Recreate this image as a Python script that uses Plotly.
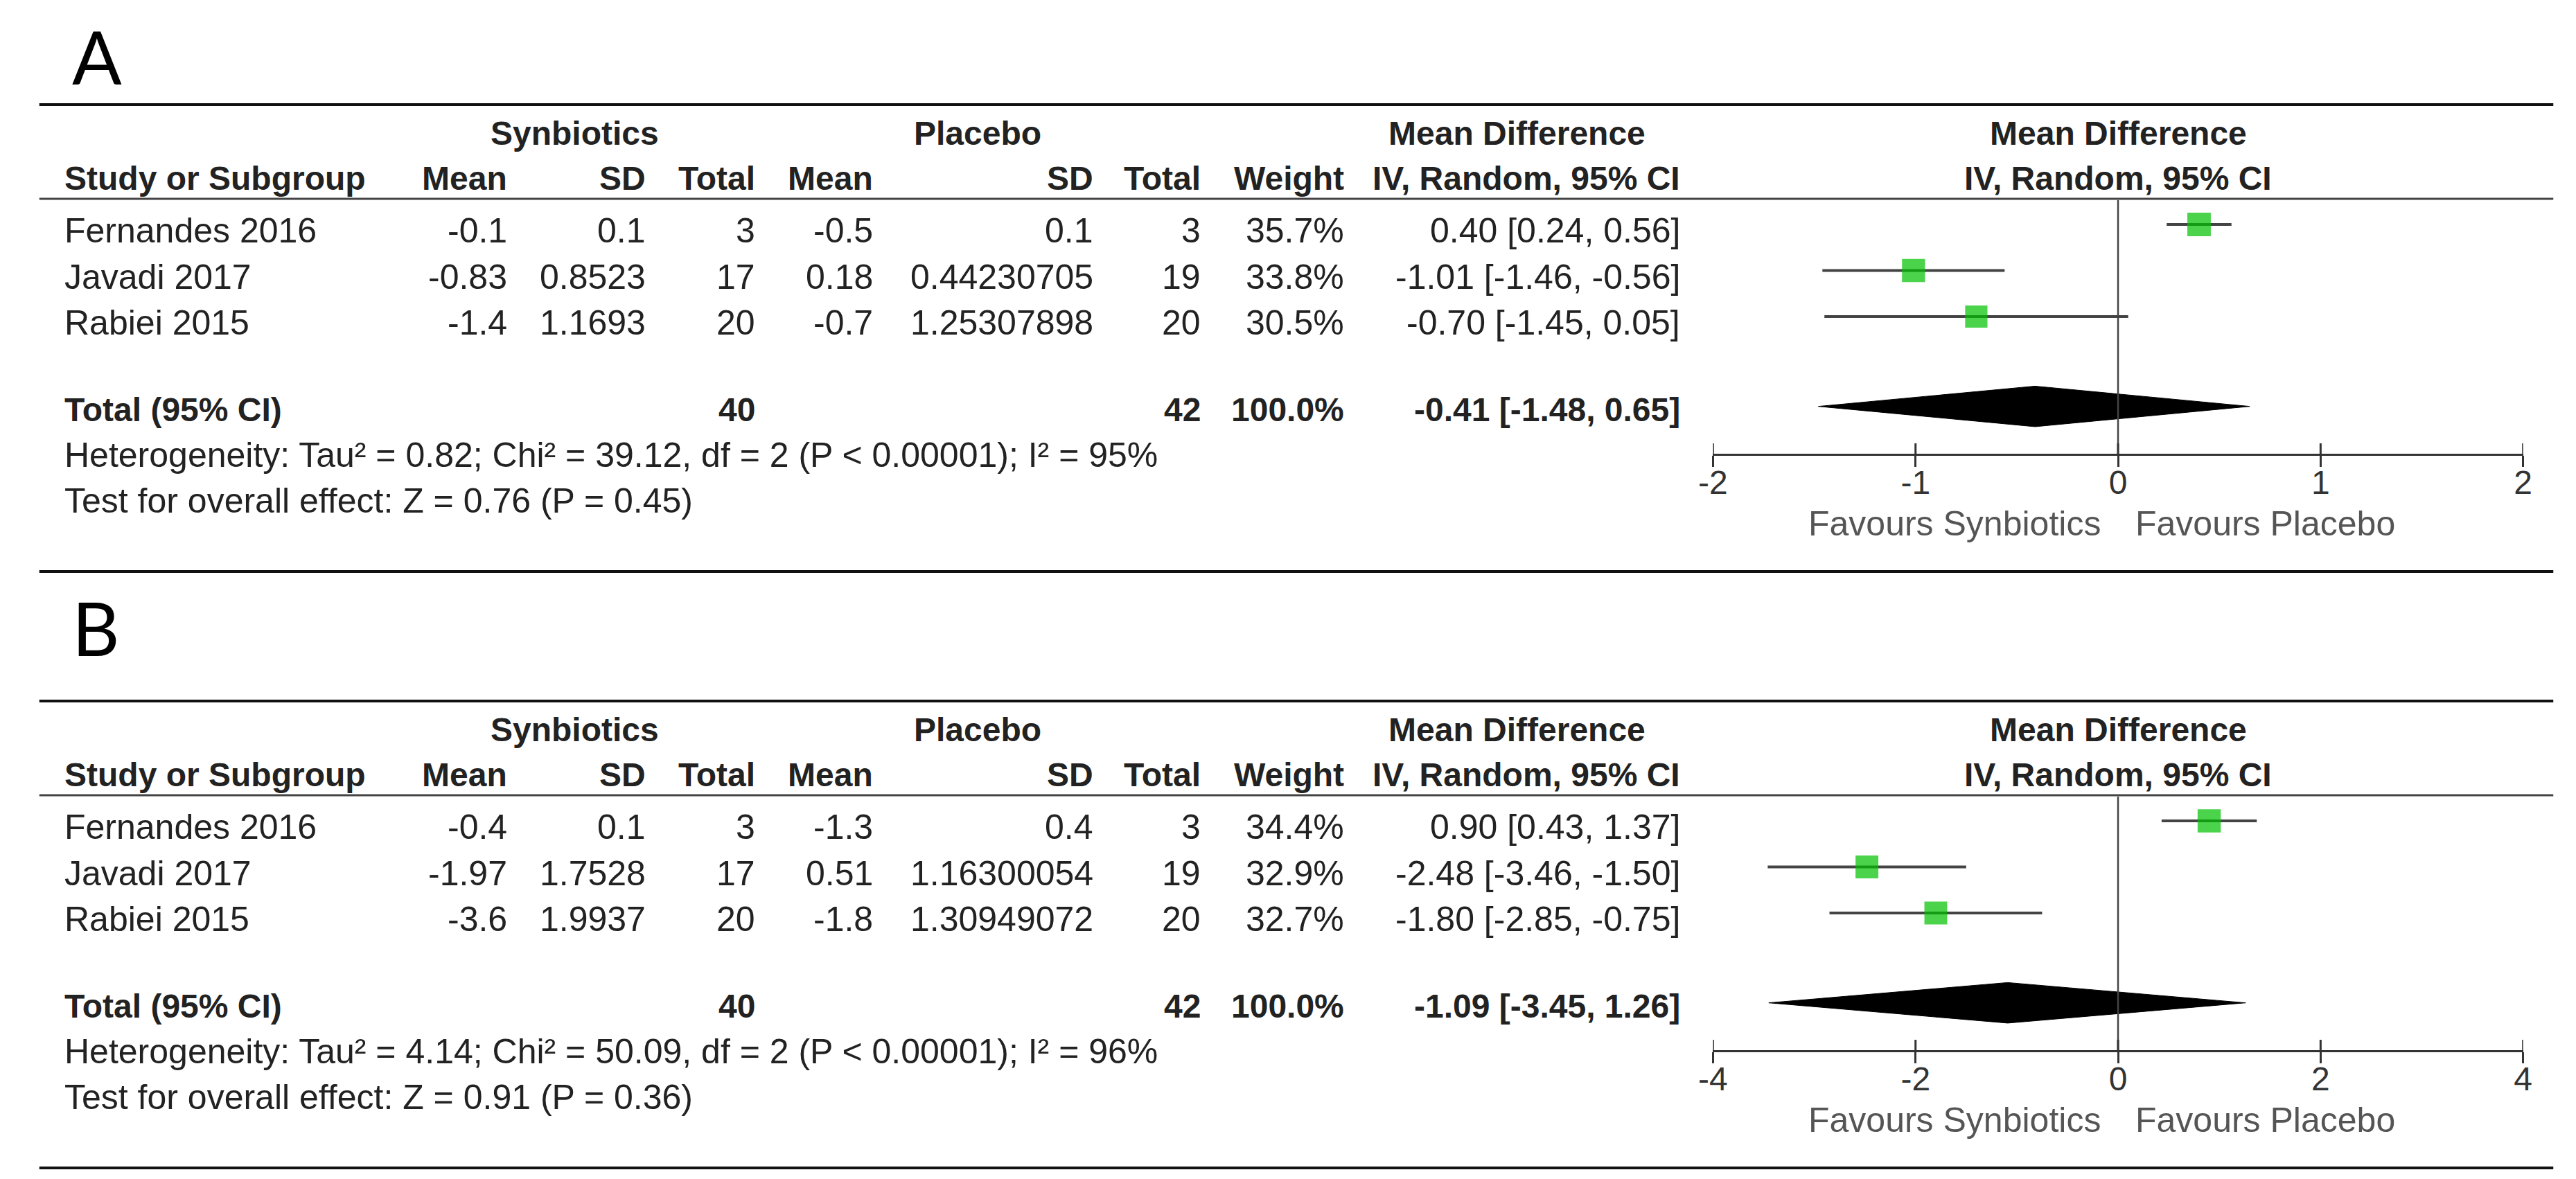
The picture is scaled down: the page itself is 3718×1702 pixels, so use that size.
import plotly.graph_objects as go

W, H = 3718, 1702

studies = ["Fernandes 2016", "Javadi 2017", "Rabiei 2015"]

# panel A
a_syn_mean = [-0.1, -0.83, -1.4]
a_syn_sd = [0.1, 0.8523, 1.1693]
a_syn_n = [3, 17, 20]
a_pla_mean = [-0.5, 0.18, -0.7]
a_pla_sd = [0.1, 0.44230705, 1.25307898]
a_pla_n = [3, 19, 20]
a_weight = [35.7, 33.8, 30.5]
a_md = [0.40, -1.01, -0.70]
a_lo = [0.24, -1.46, -1.45]
a_hi = [0.56, -0.56, 0.05]
a_total = [-0.41, -1.48, 0.65]
a_tau2, a_chi2, a_df, a_i2 = 0.82, 39.12, 2, 95
a_z, a_p = 0.76, 0.45
a_ticks = [-2, -1, 0, 1, 2]

# panel B
b_syn_mean = [-0.4, -1.97, -3.6]
b_syn_sd = [0.1, 1.7528, 1.9937]
b_syn_n = [3, 17, 20]
b_pla_mean = [-1.3, 0.51, -1.8]
b_pla_sd = [0.4, 1.16300054, 1.30949072]
b_pla_n = [3, 19, 20]
b_weight = [34.4, 32.9, 32.7]
b_md = [0.90, -2.48, -1.80]
b_lo = [0.43, -3.46, -2.85]
b_hi = [1.37, -1.50, -0.75]
b_total = [-1.09, -3.45, 1.26]
b_tau2, b_chi2, b_df, b_i2 = 4.14, 50.09, 2, 96
b_z, b_p = 0.91, 0.36
b_ticks = [-4, -2, 0, 2, 4]

panels = [
    dict(label="A", syn_mean=a_syn_mean, syn_sd=a_syn_sd, syn_n=a_syn_n,
         pla_mean=a_pla_mean, pla_sd=a_pla_sd, pla_n=a_pla_n, weight=a_weight,
         md=a_md, lo=a_lo, hi=a_hi, total=a_total, tau2=a_tau2, chi2=a_chi2,
         df=a_df, i2=a_i2, z=a_z, p=a_p, ticks=a_ticks),
    dict(label="B", syn_mean=b_syn_mean, syn_sd=b_syn_sd, syn_n=b_syn_n,
         pla_mean=b_pla_mean, pla_sd=b_pla_sd, pla_n=b_pla_n, weight=b_weight,
         md=b_md, lo=b_lo, hi=b_hi, total=b_total, tau2=b_tau2, chi2=b_chi2,
         df=b_df, i2=b_i2, z=b_z, p=b_p, ticks=b_ticks),
]

# layout in pixels of the 3718x1702 page
PANEL_DY = [0, 861]
LETTER_Y = [73, 898]
ROW0 = 316        # first study row (marker centre)
ROWH = 66.5
TOTAL_ROW = 3.95
TEXT_DY = 9
AXIS_Y = 648
TICK_UP = 16
PLOT_L, PLOT_R = 2466, 3646
LINE_L, LINE_R = 28, 3690

FONT = "Liberation Sans"
TXT = "#222222"


def px(x):
    return x / W


def py(y):
    return 1 - y / H


fig = go.Figure()
annotations = []
shapes = []


def ann(text, x, y, anchor="left", size=50, color=TXT, bold=False, family=FONT):
    if bold:
        text = "<b>" + text + "</b>"
    annotations.append(dict(text=text, x=px(x), y=py(y), xref="paper", yref="paper",
                            xanchor=anchor, yanchor="middle", showarrow=False,
                            font=dict(family=family, size=size, color=color)))


def hline(y, width, color):
    shapes.append(dict(type="line", xref="paper", yref="paper", x0=px(LINE_L), x1=px(LINE_R),
                       y0=py(y), y1=py(y), line=dict(color=color, width=width)))


for i, p in enumerate(panels):
    dy = PANEL_DY[i]
    xa, ya = ("x", "y") if i == 0 else ("x2", "y2")
    n = len(studies)
    rows = list(range(n))

    # panel letter and rules
    ann(p["label"], 74, LETTER_Y[i], size=106, color="black", family="Lato")
    hline(143 + dy, 4, "#111111")
    hline(279 + dy, 3, "#444444")
    hline(817 + dy, 4, "#111111")

    # headers
    ann("Synbiotics", 808, 184 + dy, "center", 48, bold=True)
    ann("Placebo", 1395, 184 + dy, "center", 48, bold=True)
    ann("Mean Difference", 2180, 184 + dy, "center", 48, bold=True)
    ann("Mean Difference", (PLOT_L + PLOT_R) / 2, 184 + dy, "center", 48, bold=True)
    ann("Study or Subgroup", 63, 249 + dy, "left", 48, bold=True)
    for txt, xr in [("Mean", 712), ("SD", 913), ("Total", 1073), ("Mean", 1244),
                    ("SD", 1565), ("Total", 1722), ("Weight", 1931),
                    ("IV, Random, 95% CI", 2420)]:
        ann(txt, xr, 249 + dy, "right", 48, bold=True)
    ann("IV, Random, 95% CI", (PLOT_L + PLOT_R) / 2, 249 + dy, "center", 48, bold=True)

    # study rows
    for k in rows:
        yy = ROW0 + TEXT_DY + ROWH * k + dy
        ann(studies[k], 63, yy)
        ann(str(p["syn_mean"][k]), 712, yy, "right")
        ann(str(p["syn_sd"][k]), 913, yy, "right")
        ann(str(p["syn_n"][k]), 1073, yy, "right")
        ann(str(p["pla_mean"][k]), 1244, yy, "right")
        ann(str(p["pla_sd"][k]), 1565, yy, "right")
        ann(str(p["pla_n"][k]), 1722, yy, "right")
        ann(f"{p['weight'][k]:.1f}%", 1931, yy, "right")
        ann(f"{p['md'][k]:.2f} [{p['lo'][k]:.2f}, {p['hi'][k]:.2f}]", 2420, yy, "right")

    # total row
    yt = ROW0 + ROWH * TOTAL_ROW + 5 + dy
    est, tlo, thi = p["total"]
    ann("Total (95% CI)", 63, yt, "left", 48, bold=True)
    ann(str(sum(p["syn_n"])), 1073, yt, "right", 48, bold=True)
    ann(str(sum(p["pla_n"])), 1722, yt, "right", 48, bold=True)
    ann("100.0%", 1931, yt, "right", 48, bold=True)
    ann(f"{est:.2f} [{tlo:.2f}, {thi:.2f}]", 2420, yt, "right", 48, bold=True)

    ann(f"Heterogeneity: Tau² = {p['tau2']:.2f}; Chi² = {p['chi2']:.2f}, df = {p['df']} "
        f"(P < 0.00001); I² = {p['i2']}%", 63, 649 + dy)
    ann(f"Test for overall effect: Z = {p['z']:.2f} (P = {p['p']:.2f})", 63, 715 + dy)

    # favours labels
    ann("Favours Synbiotics", 3033, 748 + dy, "right", 50, color="#555555")
    ann("Favours Placebo", 3079, 748 + dy, "left", 50, color="#555555")

    # line of no effect
    shapes.append(dict(type="line", xref=xa, yref="paper", x0=0, x1=0,
                       y0=py(281 + dy), y1=py(AXIS_Y + dy),
                       line=dict(color="#444444", width=2.5)))

    # upper half of the crossing tick marks
    for t in p["ticks"]:
        shapes.append(dict(type="line", xref=xa, yref="paper", x0=t, x1=t,
                           y0=py(AXIS_Y + dy), y1=py(AXIS_Y - TICK_UP + dy),
                           line=dict(color="#333333", width=3)))

    # confidence intervals
    xs, ys = [], []
    for lo, hi, r in zip(p["lo"], p["hi"], rows):
        xs += [lo, hi, None]
        ys += [r, r, None]
    fig.add_trace(go.Scatter(x=xs, y=ys, mode="lines", xaxis=xa, yaxis=ya,
                             line=dict(color="#444444", width=4),
                             hoverinfo="skip", showlegend=False))
    # point estimates
    fig.add_trace(go.Scatter(x=p["md"], y=rows, mode="markers", xaxis=xa, yaxis=ya,
                             marker=dict(symbol="square", color="#00C000",
                                         size=[22 + w / 3 for w in p["weight"]],
                                         line=dict(width=0)),
                             showlegend=False))
    # pooled diamond
    hh = 0.44
    fig.add_trace(go.Scatter(x=[tlo, est, thi, est, tlo],
                             y=[TOTAL_ROW, TOTAL_ROW - hh, TOTAL_ROW, TOTAL_ROW + hh, TOTAL_ROW],
                             mode="lines", fill="toself", fillcolor="black",
                             line=dict(color="black", width=1), xaxis=xa, yaxis=ya,
                             showlegend=False))

    ticks = p["ticks"]
    xname = "xaxis" if i == 0 else "xaxis2"
    yname = "yaxis" if i == 0 else "yaxis2"
    fig.layout[xname] = dict(domain=[px(PLOT_L), px(PLOT_R)], range=[ticks[0], ticks[-1]],
                             anchor="free", position=py(AXIS_Y + dy), showgrid=False,
                             zeroline=False, tickvals=ticks, ticklen=16, tickwidth=3,
                             tickcolor="#333333", fixedrange=True,
                             showline=True, linecolor="#333333", linewidth=3,
                             ticks="outside", ticktext=[f"{t:g}" for t in ticks],
                             ticklabelstandoff=-19,
                             tickfont=dict(family=FONT, size=48, color="#333333"))
    fig.layout[yname] = dict(domain=[0, 1], anchor=xa, visible=False, fixedrange=True,
                             range=[(H - ROW0 - dy) / ROWH, -(ROW0 + dy) / ROWH])

fig.update_layout(width=W, height=H, margin=dict(l=0, r=0, t=0, b=0),
                  paper_bgcolor="white", plot_bgcolor="rgba(0,0,0,0)",
                  annotations=annotations, shapes=shapes, showlegend=False)

fig.write_html("out.html")
